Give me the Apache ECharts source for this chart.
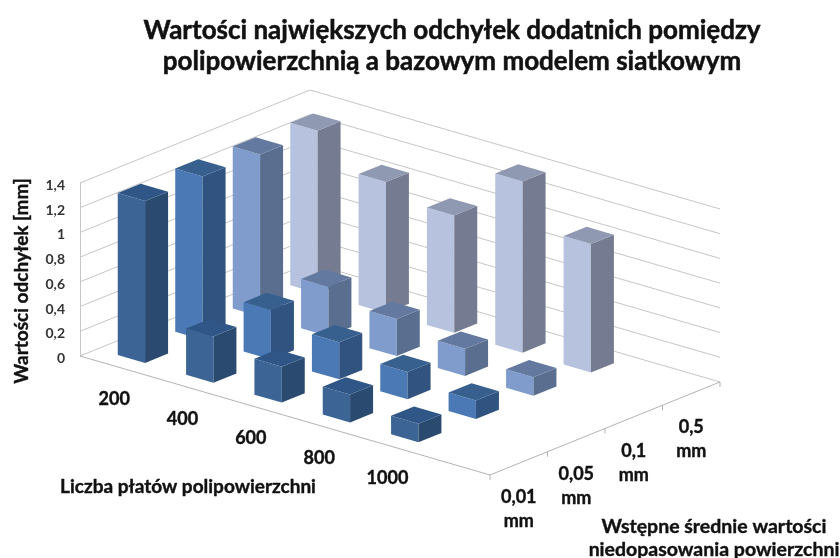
<!DOCTYPE html>
<html>
<head>
<meta charset="utf-8">
<script src="https://cdn.jsdelivr.net/npm/echarts@6/dist/echarts.min.js"></script>
<style>
html,body{margin:0;padding:0;background:#fff;}
#chart{width:840px;height:558px;}
</style>
</head>
<body>
<div id="chart"></div>
<script>
var categories=['200','400','600','800','1000'];
var seriesLabels=['0,01\nmm','0,05\nmm','0,1\nmm','0,5\nmm'];
var yTicks=[0,0.2,0.4,0.6,0.8,1,1.2,1.4];

// max deviations per series, one value for each category
var values001=[1.31,0.375,0.29,0.225,0.15];
var values005=[1.32,0.40,0.30,0.22,0.15];
var values01=[1.31,0.40,0.30,0.22,0.15];
var values05=[1.315,1.06,0.95,1.385,1.04];

var seriesValues=[values001,values005,values01,values05];
var faceColors=[
	{front:'#3c6595',side:'#2a4a70',top:'#2f5686'},
	{front:'#4a79b5',side:'#30537f',top:'#37608f'},
	{front:'#7f9ccc',side:'#5a6f8f',top:'#64799f'},
	{front:'#b6c2de',side:'#757c92',top:'#8f99b1'}
];

// excel leaves one empty slot at the end of the category axis
var slots=categories.length+1;
var depth=seriesLabels.length;
var depthX=57.5,depthY=-23.25,rowDrop=19.83;
var barHalf=0.2;
var wallColor='#c6c6c6';
var inkColor='#111';
var inkWeight=0.4; // thin outline, the original lettering is heavier than Lato bold

function project(api,u,v,z){
	var p=api.coord([u,z]);
	return [p[0]+v*depthX,p[1]+u*rowDrop+v*depthY];
}
function face(points,color){
	return {type:'polygon',shape:{points:points},style:{fill:color}};
}
function barRenderer(j){
	return function(params,api){
		var u=api.value(0)+0.5,z=api.value(1),v=j+0.5;
		var u0=u-barHalf,u1=u+barHalf,v0=v-barHalf,v1=v+barHalf;
		var c=faceColors[j];
		return {type:'group',children:[
			face([project(api,u0,v0,0),project(api,u1,v0,0),project(api,u1,v0,z),project(api,u0,v0,z)],c.front),
			face([project(api,u1,v0,0),project(api,u1,v1,0),project(api,u1,v1,z),project(api,u1,v0,z)],c.side),
			face([project(api,u0,v0,z),project(api,u1,v0,z),project(api,u1,v1,z),project(api,u0,v1,z)],c.top)
		]};
	};
}
function wallRenderer(params,api){
	var z=api.value(1);
	return {type:'polyline',shape:{points:[project(api,0,0,z),project(api,0,depth,z),project(api,slots,depth,z)]},
		style:{fill:'none',stroke:wallColor,lineWidth:1}};
}
function floorRenderer(params,api){
	var children=[
		{type:'polyline',shape:{points:[project(api,0,0,0),project(api,slots,0,0),project(api,slots,depth,0)]},
			style:{fill:'none',stroke:'#b4b4b4',lineWidth:1}}
	];
	for(var j=0;j<=depth;j++){
		var p=project(api,slots,j,0);
		children.push({type:'line',shape:{x1:p[0],y1:p[1],x2:p[0],y2:p[1]+5},style:{stroke:'#b4b4b4',lineWidth:1}});
	}
	return {type:'group',children:children};
}
function labelText(text,p,fontSize){
	return {type:'text',style:{text:text,x:p[0],y:p[1],align:'center',verticalAlign:'middle',
		fontFamily:'Lato',fontWeight:'bold',fontSize:fontSize,lineHeight:24,fill:inkColor,
		stroke:inkColor,lineWidth:inkWeight}};
}
function categoryLabelRenderer(params,api){
	var p=project(api,api.value(0)+0.5,0,0);
	return labelText(categories[params.dataIndex],[p[0],p[1]+33],18);
}
function seriesLabelRenderer(params,api){
	var p=project(api,slots,api.value(0)+0.5,0);
	return labelText(seriesLabels[params.dataIndex],[p[0],p[1]+46],18);
}
function customSeries(renderItem,data){
	return {type:'custom',renderItem:renderItem,data:data,clip:false,silent:true,animation:false,
		encode:{x:0,y:1}};
}
function axisName(text,x,y,size,rotation){
	return {type:'text',x:x,y:y,rotation:rotation||0,style:{text:text,align:'center',verticalAlign:'middle',
		fontFamily:'Lato',fontWeight:'bold',fontSize:size,lineHeight:23,fill:inkColor,stroke:inkColor,lineWidth:inkWeight}};
}

var series=[];
series.push(customSeries(wallRenderer,yTicks.map(function(t){return [0,t];})));
series.push(customSeries(floorRenderer,[[0,0]]));
// back row first so the nearer bars paint over it
for(var j=depth-1;j>=0;j--){
	series.push(customSeries(barRenderer(j),seriesValues[j].map(function(val,i){return [i,val];})));
}
series.push(customSeries(categoryLabelRenderer,categories.map(function(c,i){return [i,0];})));
series.push(customSeries(seriesLabelRenderer,seriesLabels.map(function(c,j){return [j,0];})));

var myChart=echarts.init(document.getElementById('chart'),null,{renderer:'canvas'});
var option={
	animation:false,
	backgroundColor:'#fff',
	title:{
		text:'Wartości największych odchyłek dodatnich pomiędzy\npolipowierzchnią a bazowym modelem siatkowym',
		left:447,top:10,textAlign:'center',
		textStyle:{fontFamily:'Lato',fontWeight:'bold',fontSize:26,lineHeight:31,color:inkColor,
			textBorderColor:inkColor,textBorderWidth:0.5}
	},
	grid:{left:80,top:183,width:410,height:173},
	xAxis:{type:'value',min:0,max:slots,show:false},
	yAxis:{
		type:'value',min:0,max:1.4,interval:0.2,
		axisLine:{show:true,lineStyle:{color:wallColor}},
		axisTick:{show:false},
		splitLine:{show:false},
		axisLabel:{margin:15,verticalAlign:'top',lineHeight:5,fontFamily:'Lato',fontWeight:'bold',fontSize:14,color:'#333',
			formatter:function(v){return String(v).replace('.',',');}}
	},
	graphic:[
		axisName('Wartości odchyłek [mm]',22,281,19,Math.PI/2),
		axisName('Liczba płatów polipowierzchni',188,487,19),
		axisName('Wstępne średnie wartości\nniedopasowania powierzchni',714,538,19.5)
	],
	series:series
};
myChart.setOption(option);
</script>
</body>
</html>
